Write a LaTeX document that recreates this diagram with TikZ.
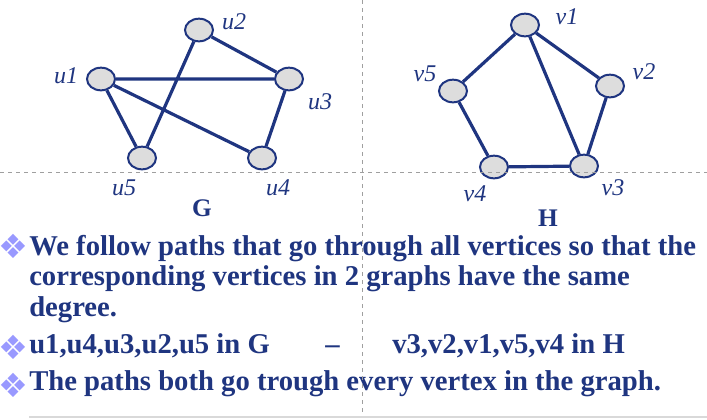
\documentclass[tikz,border=0pt]{standalone}
\usepackage{fontspec}
\setmainfont{Liberation Serif}
\newfontfamily\symfont{DejaVu Sans}
\usetikzlibrary{shapes.geometric}
\definecolor{navy}{RGB}{31,53,128}
\definecolor{bulletblue}{RGB}{153,153,255}
\definecolor{vfill}{RGB}{221,221,221}

\begin{document}
\begin{tikzpicture}[x=0.75pt,y=-0.75pt,
    vertex/.style={ellipse,draw=navy,line width=1.5pt,fill=vfill,minimum width=21pt,minimum height=17pt,inner sep=0pt},
    lbl/.style={text=navy,inner sep=0pt,font=\fontsize{18}{20}\selectfont\itshape},
    title/.style={text=navy,inner sep=0pt,font=\fontsize{19}{20}\selectfont\bfseries},
    edge/.style={draw=navy,line width=2.4pt},
    txt/.style={anchor=base west,text=navy,inner sep=0pt,font=\fontsize{21.5}{23}\selectfont\bfseries},
    blt/.style={text=bulletblue,inner sep=0pt,font=\fontsize{25}{25}\selectfont\symfont},
    guide/.style={draw=gray!75,dashed,line width=0.75pt}]

  \useasboundingbox (0,0) rectangle (707,419);

  % graph G
  \node[vertex] (u1) at (101,79) {};
  \node[vertex] (u2) at (199,30) {};
  \node[vertex] (u3) at (289,79) {};
  \node[vertex] (u4) at (262,158) {};
  \node[vertex] (u5) at (142,158) {};
  \draw[edge] (u2)--(u3) (u1)--(u3) (u1)--(u4) (u1)--(u5) (u2)--(u5) (u3)--(u4);
  \node[lbl] (lu1) at (66,76) {u1};
  \node[lbl] (lu2) at (234,22) {u2};
  \node[lbl] (lu3) at (320,102) {u3};
  \node[lbl] (lu4) at (278,188) {u4};
  \node[lbl] (lu5) at (124,188) {u5};
  \node[title] (G) at (202,208) {G};

  % graph H
  \node[vertex] (v1) at (525,25) {};
  \node[vertex] (v2) at (610,86) {};
  \node[vertex] (v3) at (584,166) {};
  \node[vertex] (v4) at (494,167) {};
  \node[vertex] (v5) at (453,91) {};
  \draw[edge] (v1)--(v5) (v1)--(v2) (v1)--(v3) (v2)--(v3) (v5)--(v4) (v4)--(v3);
  \node[lbl] (lv1) at (567,17) {v1};
  \node[lbl] (lv2) at (644,72) {v2};
  \node[lbl] (lv3) at (613,188) {v3};
  \node[lbl] (lv4) at (475,194) {v4};
  \node[lbl] (lv5) at (425,74) {v5};
  \node[title] (H) at (548,218) {H};

  % text
  \node[blt] (b1) at (13,246) {❖};
  \node[txt] (t1) at (29,255) {We follow paths that go through all vertices so that the};
  \node[txt] (t2) at (29,285) {corresponding vertices in 2 graphs have the same};
  \node[txt] (t3) at (29,316) {degree.};
  \node[blt] (b2) at (13,347) {❖};
  \node[txt] (t4) at (29,353) {u1,u4,u3,u2,u5 in G};
  \node[txt] (dash) at (325,353) {–};
  \node[txt] (t4b) at (392,353) {v3,v2,v1,v5,v4 in H};
  \node[blt] (b3) at (13,385) {❖};
  \node[txt] (t5) at (29,390) {The paths both go trough every vertex in the graph.};

  % guides
  \coordinate (gtop) at (362,0);
  \coordinate (gbot) at (362,415);
  \coordinate (gleft) at (0,172);
  \coordinate (gright) at (707,172);
  \coordinate (rl) at (29,417);
  \coordinate (rr) at (707,417);
  \draw[guide] (gtop)--(gbot) (gleft)--(gright);
  \draw[gray!30,line width=1.2pt] (rl)--(rr);
\end{tikzpicture}
\end{document}
